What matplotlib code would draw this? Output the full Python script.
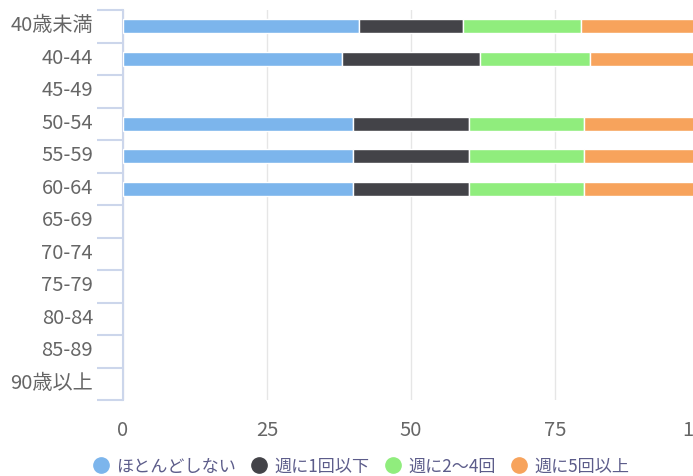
import matplotlib.pyplot as plt
import matplotlib.transforms as mtransforms
import numpy as np

plt.rcParams['font.family'] = ['Noto Sans CJK JP', 'DejaVu Sans']

categories = ["40歳未満", "40-44", "45-49", "50-54", "55-59", "60-64",
              "65-69", "70-74", "75-79", "80-84", "85-89", "90歳以上"]
series_names = ["ほとんどしない", "週に1回以下", "週に2〜4回", "週に5回以上"]
colors = ["#7cb5ec", "#434348", "#90ed7d", "#f7a35c"]

hardly = [41, 38, 0, 40, 40, 40, 0, 0, 0, 0, 0, 0]
once_or_less = [18, 24, 0, 20, 20, 20, 0, 0, 0, 0, 0, 0]
two_to_four = [20.5, 19, 0, 20, 20, 20, 0, 0, 0, 0, 0, 0]
five_plus = [20.5, 19, 0, 20, 20, 20, 0, 0, 0, 0, 0, 0]

values = [hardly, once_or_less, two_to_four, five_plus]

fig = plt.figure(figsize=(6.93, 4.77), dpi=100)
ax = fig.add_axes([123 / 693, 76 / 477, 576 / 693, 390 / 477])

y = np.arange(len(categories))
left = np.zeros(len(categories))
for name, vals, col in zip(series_names, values, colors):
    vals = np.array(vals, dtype=float)
    keep = vals > 0
    ax.barh(y[keep], vals[keep], left=left[keep], height=0.42, color=col,
            edgecolor="white", linewidth=1, label=name, zorder=3)
    left += vals

ax.set_xlim(0, 100)
ax.set_ylim(len(categories) - 0.5, -0.5)

ax.set_xticks([0, 25, 50, 75, 100])
ax.set_xticklabels(["0", "25", "50", "75", "100"])
ax.tick_params(axis="x", length=0, pad=14, labelsize=14.5, labelcolor="#666666")
ax.grid(axis="x", color="#e6e6e6", linewidth=1, zorder=0)

# category labels, nudged a little above the band centre
ax.set_yticks([])
ax.set_yticks(np.arange(len(categories) + 1) - 0.5, minor=True)
ax.tick_params(axis="y", which="minor", length=19, width=1.5, color="#ccd6eb")
trans = mtransforms.blended_transform_factory(ax.transAxes, ax.transData)
trans = trans + mtransforms.ScaledTranslation(-30 / 100, 1.5 / 100,
                                              fig.dpi_scale_trans)
for yi, cat in zip(y, categories):
    ax.text(0, yi, cat, transform=trans, ha="right", va="center",
            fontsize=14.5, color="#666666")

for s in ["top", "right", "bottom"]:
    ax.spines[s].set_visible(False)
ax.spines["left"].set_color("#ccd6eb")
ax.spines["left"].set_linewidth(1.5)

handles = [plt.Line2D([], [], marker="o", linestyle="", markersize=11,
                      color=c) for c in colors]
fig.legend(handles, series_names, loc="center", bbox_to_anchor=(0.52, 0.022),
           ncol=4, frameon=False, fontsize=12.3, labelcolor="#5c5c8a",
           handletextpad=0.35, columnspacing=0.8, handlelength=1.1)

fig.savefig("out.png", dpi=100)
